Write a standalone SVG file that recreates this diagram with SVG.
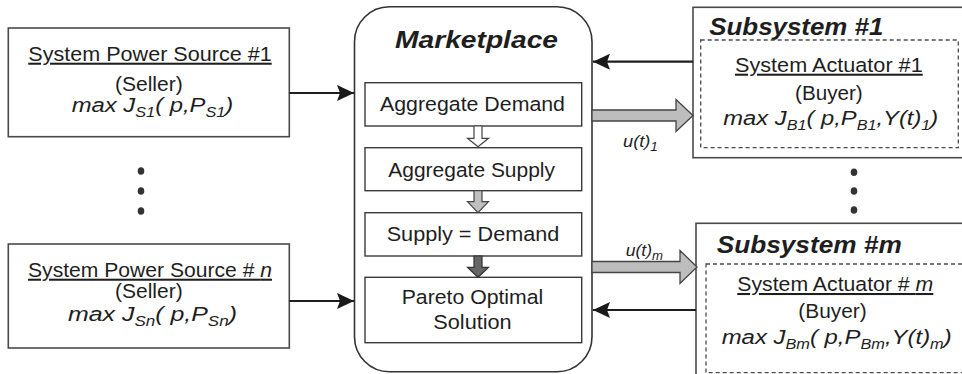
<svg xmlns="http://www.w3.org/2000/svg" width="962" height="374" viewBox="0 0 962 374">
  <style>
    text { font-family: "Liberation Sans", Arial, Helvetica, sans-serif; fill: #1e1e1e; }
    .t { font-size: 20.5px; }
    .it { font-style: italic; }
    .sub { font-size: 14px; }
    .hd { font-size: 24px; font-weight: bold; font-style: italic; }
    .lbl { font-size: 16px; font-style: italic; }
    .lsub { font-size: 12px; }
    .u { text-decoration: underline; }
    .box { fill: #fff; stroke: #4a4a4a; stroke-width: 1.6; }
    .ibox { fill: #fff; stroke: #3a3a3a; stroke-width: 1.4; }
    .dash { fill: none; stroke: #4a4a4a; stroke-width: 1.3; stroke-dasharray: 4 3; }
    .wire { fill: none; stroke: #1e1e1e; stroke-width: 2.2; }
    .fat { fill: #bdbdbd; stroke: #444; stroke-width: 1.3; stroke-linejoin: miter; }
    .dot { fill: #333; }
  </style>
  <defs>
    <marker id="ah" viewBox="0 0 17 16" refX="17" refY="8" markerWidth="17" markerHeight="16" markerUnits="userSpaceOnUse" orient="auto">
      <path d="M0,0 L17,8 L0,16 L3,8 z" fill="#1a1a1a"/>
    </marker>
  </defs>

  <rect width="962" height="374" fill="#fff"/>

  <!-- Power source 1 -->
  <g id="source1">
    <rect class="box" x="8.3" y="28" width="281" height="108.7"/>
    <text class="t u" x="28.3" y="60.7" textLength="243.4" lengthAdjust="spacingAndGlyphs">System Power Source #1</text>
    <text class="t" x="115" y="91" textLength="67.7" lengthAdjust="spacingAndGlyphs">(Seller)</text>
    <text class="t it" x="71.7" y="111.7" textLength="161.6" lengthAdjust="spacingAndGlyphs">max J<tspan class="sub" dy="5">S1</tspan><tspan dy="-5">( p,P</tspan><tspan class="sub" dy="5">S1</tspan><tspan dy="-5">)</tspan></text>
  </g>

  <!-- ellipsis between sources -->
  <g id="sourceDots">
    <ellipse class="dot" cx="141" cy="171" rx="3.3" ry="3.8"/>
    <ellipse class="dot" cx="141" cy="191" rx="3.3" ry="3.8"/>
    <ellipse class="dot" cx="141" cy="211" rx="3.3" ry="3.8"/>
  </g>

  <!-- Power source n -->
  <g id="sourceN">
    <rect class="box" x="8.3" y="244" width="281" height="104"/>
    <text class="t u" x="28" y="276.7" textLength="244" lengthAdjust="spacingAndGlyphs">System Power Source # <tspan class="it">n</tspan></text>
    <text class="t" x="115" y="298.3" textLength="67.7" lengthAdjust="spacingAndGlyphs">(Seller)</text>
    <text class="t it" x="68" y="320.7" textLength="169" lengthAdjust="spacingAndGlyphs">max J<tspan class="sub" dy="5">Sn</tspan><tspan dy="-5">( p,P</tspan><tspan class="sub" dy="5">Sn</tspan><tspan dy="-5">)</tspan></text>
  </g>

  <!-- Marketplace -->
  <g id="marketplace">
    <rect fill="#fff" stroke="#333" stroke-width="1.6" x="354.5" y="6.7" width="237.5" height="365" rx="35" ry="35"/>
    <text class="hd" x="395" y="48" textLength="163" lengthAdjust="spacingAndGlyphs">Marketplace</text>
  </g>
  <g id="aggDemand">
    <rect class="ibox" x="365" y="82.7" width="216.7" height="43.3"/>
    <text class="t" x="380" y="110.5" textLength="185" lengthAdjust="spacingAndGlyphs">Aggregate Demand</text>
  </g>
  <g id="aggSupply">
    <rect class="ibox" x="365" y="147.7" width="216.7" height="43"/>
    <text class="t" x="388.3" y="176.5" textLength="166.7" lengthAdjust="spacingAndGlyphs">Aggregate Supply</text>
  </g>
  <g id="balance">
    <rect class="ibox" x="365" y="212.7" width="216.7" height="43.3"/>
    <text class="t" x="386.7" y="240.7" textLength="172.6" lengthAdjust="spacingAndGlyphs">Supply = Demand</text>
  </g>
  <g id="pareto">
    <rect class="ibox" x="365" y="277.3" width="216.7" height="65.4"/>
    <text class="t" x="401.7" y="304" textLength="141.6" lengthAdjust="spacingAndGlyphs">Pareto Optimal</text>
    <text class="t" x="433.3" y="329.3" textLength="78.4" lengthAdjust="spacingAndGlyphs">Solution</text>
  </g>

  <!-- Subsystem 1 -->
  <g id="subsystem1">
    <rect class="box" x="693" y="7.3" width="280" height="150.4"/>
    <text class="hd" x="709.3" y="35" textLength="174" lengthAdjust="spacingAndGlyphs">Subsystem #1</text>
    <rect class="dash" x="700.7" y="40" width="257.6" height="107.7"/>
    <text class="t u" x="735" y="71.7" textLength="187.7" lengthAdjust="spacingAndGlyphs">System Actuator #1</text>
    <text class="t" x="795" y="100" textLength="67.7" lengthAdjust="spacingAndGlyphs">(Buyer)</text>
    <text class="t it" x="723.3" y="125" textLength="215" lengthAdjust="spacingAndGlyphs">max J<tspan class="sub" dy="5">B1</tspan><tspan dy="-5">( p,P</tspan><tspan class="sub" dy="5">B1</tspan><tspan dy="-5">,Y(t)</tspan><tspan class="sub" dy="5">1</tspan><tspan dy="-5">)</tspan></text>
  </g>

  <!-- ellipsis between subsystems -->
  <g id="subsystemDots">
    <ellipse class="dot" cx="854" cy="172.3" rx="3.3" ry="3.8"/>
    <ellipse class="dot" cx="854" cy="191" rx="3.3" ry="3.8"/>
    <ellipse class="dot" cx="854" cy="210" rx="3.3" ry="3.8"/>
  </g>

  <!-- Subsystem m -->
  <g id="subsystemM">
    <rect class="box" x="696" y="223.3" width="280" height="170"/>
    <text class="hd" x="716.7" y="252.7" textLength="185" lengthAdjust="spacingAndGlyphs">Subsystem #m</text>
    <rect class="dash" x="706" y="264" width="257" height="108.7"/>
    <text class="t u" x="737.3" y="291" textLength="196" lengthAdjust="spacingAndGlyphs">System Actuator # <tspan class="it">m</tspan></text>
    <text class="t" x="798.3" y="318.3" textLength="68.4" lengthAdjust="spacingAndGlyphs">(Buyer)</text>
    <text class="t it" x="721.7" y="344" textLength="230" lengthAdjust="spacingAndGlyphs">max J<tspan class="sub" dy="5">Bm</tspan><tspan dy="-5">( p,P</tspan><tspan class="sub" dy="5">Bm</tspan><tspan dy="-5">,Y(t)</tspan><tspan class="sub" dy="5">m</tspan><tspan dy="-5">)</tspan></text>
  </g>

  <!-- Connectors -->
  <g id="connectors">
    <!-- sellers into the marketplace -->
    <line class="wire" x1="289.3" y1="93" x2="354" y2="93" marker-end="url(#ah)"/>
    <line class="wire" x1="289.3" y1="301" x2="354" y2="301" marker-end="url(#ah)"/>
    <!-- buyer feedback into the marketplace -->
    <line class="wire" x1="693" y1="61.7" x2="593" y2="61.7" marker-end="url(#ah)"/>
    <line class="wire" x1="696" y1="310" x2="593" y2="310" marker-end="url(#ah)"/>
    <!-- control signals out to subsystems -->
    <polygon class="fat" points="592,110 676,110 676,99.5 693,115.5 676,131.5 676,121 592,121"/>
    <polygon class="fat" points="592,261.5 680,261.5 680,250.5 697,267 680,283.5 680,272.5 592,272.5"/>
    <text class="lbl" x="623" y="146.7" textLength="35" lengthAdjust="spacingAndGlyphs">u(t)<tspan class="lsub" dy="4">1</tspan></text>
    <text class="lbl" x="625.7" y="256" textLength="37.3" lengthAdjust="spacingAndGlyphs">u(t)<tspan class="lsub" dy="4">m</tspan></text>
    <!-- internal marketplace flow -->
    <polygon points="474,126 482,126 482,138.3 488.5,138.3 478,146.7 467.5,138.3 474,138.3" fill="#fff" stroke="#444" stroke-width="1.2"/>
    <polygon points="474,190.7 482,190.7 482,201.7 488.5,201.7 478,212.7 467.5,201.7 474,201.7" fill="#bfbfbf" stroke="#444" stroke-width="1.2"/>
    <polygon points="474,256 482,256 482,267.3 488.5,267.3 478,277.3 467.5,267.3 474,267.3" fill="#666" stroke="#333" stroke-width="1.2"/>
  </g>
</svg>
